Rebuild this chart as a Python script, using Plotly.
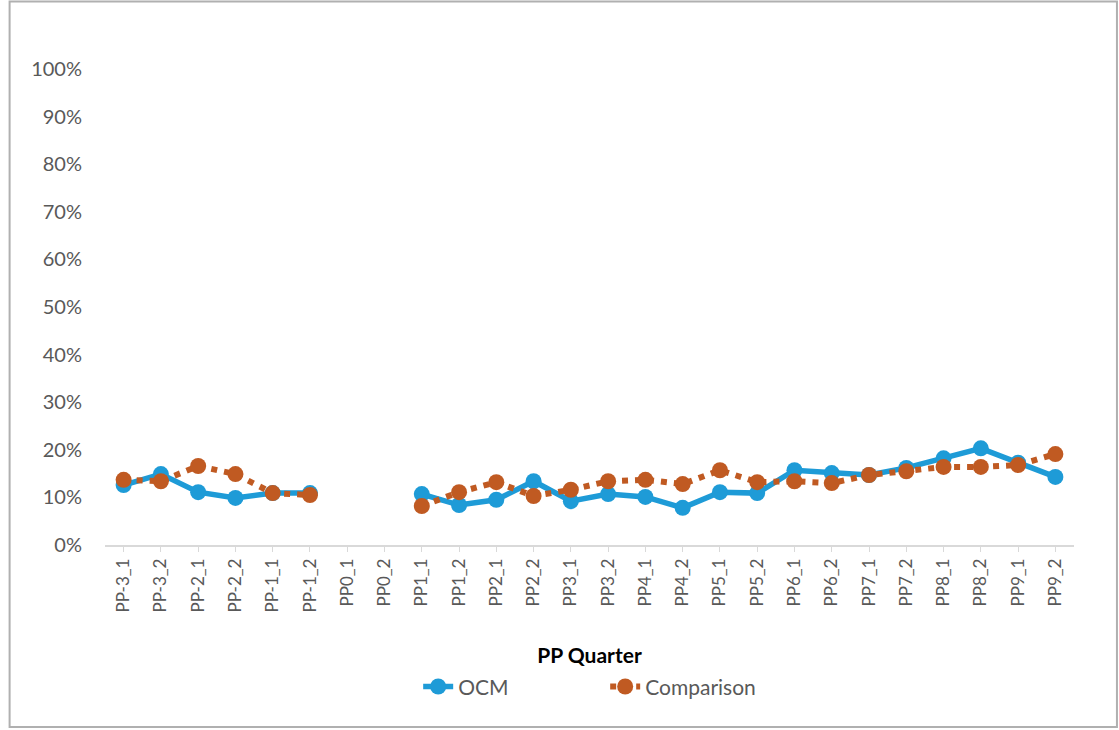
import plotly.graph_objects as go

categories = ["PP-3_1", "PP-3_2", "PP-2_1", "PP-2_2", "PP-1_1", "PP-1_2", "PP0_1", "PP0_2",
              "PP1_1", "PP1_2", "PP2_1", "PP2_2", "PP3_1", "PP3_2", "PP4_1", "PP4_2",
              "PP5_1", "PP5_2", "PP6_1", "PP6_2", "PP7_1", "PP7_2", "PP8_1", "PP8_2",
              "PP9_1", "PP9_2"]
ocm = [0.126, 0.149, 0.111, 0.099, 0.109, 0.109, None, None,
       0.107, 0.084, 0.095, 0.134, 0.092, 0.107, 0.101, 0.078,
       0.111, 0.109, 0.157, 0.151, 0.147, 0.162, 0.182, 0.203,
       0.173, 0.143]
comparison = [0.137, 0.134, 0.166, 0.149, 0.109, 0.105, None, None,
              0.082, 0.111, 0.132, 0.103, 0.116, 0.134, 0.137, 0.128,
              0.157, 0.132, 0.134, 0.130, 0.147, 0.155, 0.164, 0.164,
              0.168, 0.191]
y_ticks = [0, 0.1, 0.2, 0.3, 0.4, 0.5, 0.6, 0.7, 0.8, 0.9, 1.0]
y_tick_labels = ["0%", "10%", "20%", "30%", "40%", "50%", "60%", "70%", "80%", "90%", "100%"]

FONT = "Lato, Open Sans, sans-serif"

fig = go.Figure()
fig.add_trace(go.Scatter(
    x=categories, y=ocm, name="OCM", mode="lines+markers",
    line=dict(color="#1E9BD7", width=5.5),
    marker=dict(color="#1E9BD7", size=16),
    connectgaps=False,
))
fig.add_trace(go.Scatter(
    x=categories, y=comparison, name="Comparison", mode="lines+markers",
    line=dict(color="#C05A22", width=6, dash="6px,7px"),
    marker=dict(color="#C05A22", size=16),
    connectgaps=False,
))

fig.update_layout(
    width=1119, height=730,
    margin=dict(l=104.5, r=44.5, t=69, b=185),
    paper_bgcolor="white", plot_bgcolor="white",
    font=dict(family=FONT, color="#595959", size=18),
    showlegend=True,
    legend=dict(orientation="h", x=(418 - 104.5) / 970, xanchor="left", y=-0.255, yanchor="top",
                font=dict(size=21, color="#595959"), entrywidth=142, entrywidthmode="pixels",
                traceorder="normal"),
    xaxis=dict(
        type="category", categoryorder="array", categoryarray=categories,
        range=[-0.5, len(categories) - 0.5],
        showline=True, linecolor="#D9D9D9", linewidth=1.5,
        ticks="outside", ticklen=5, tickcolor="#D9D9D9",
        tickangle=-90, tickfont=dict(size=17, color="#595959"),
        showgrid=False, zeroline=False,
        title=dict(text="<b>PP Quarter</b>", font=dict(size=21, color="#000000"), standoff=37),
    ),
    yaxis=dict(
        range=[0, 1], tickvals=y_ticks, ticktext=y_tick_labels,
        showgrid=False, zeroline=False, showline=False,
        tickfont=dict(size=20, color="#595959"), ticks="", ticklabelstandoff=22,
    ),
    shapes=[dict(type="rect", xref="paper", yref="paper",
                 x0=(9 - 104.5) / 970, x1=(1117.5 - 104.5) / 970,
                 y0=(545 - 727) / 476, y1=(545 - 1.5) / 476,
                 line=dict(color="#B0B0B0", width=2), fillcolor="rgba(0,0,0,0)", layer="below")],
)

fig.write_html("out.html", config={"displayModeBar": False},
               post_script="document.body.style.margin='0';document.body.style.overflow='hidden';")
